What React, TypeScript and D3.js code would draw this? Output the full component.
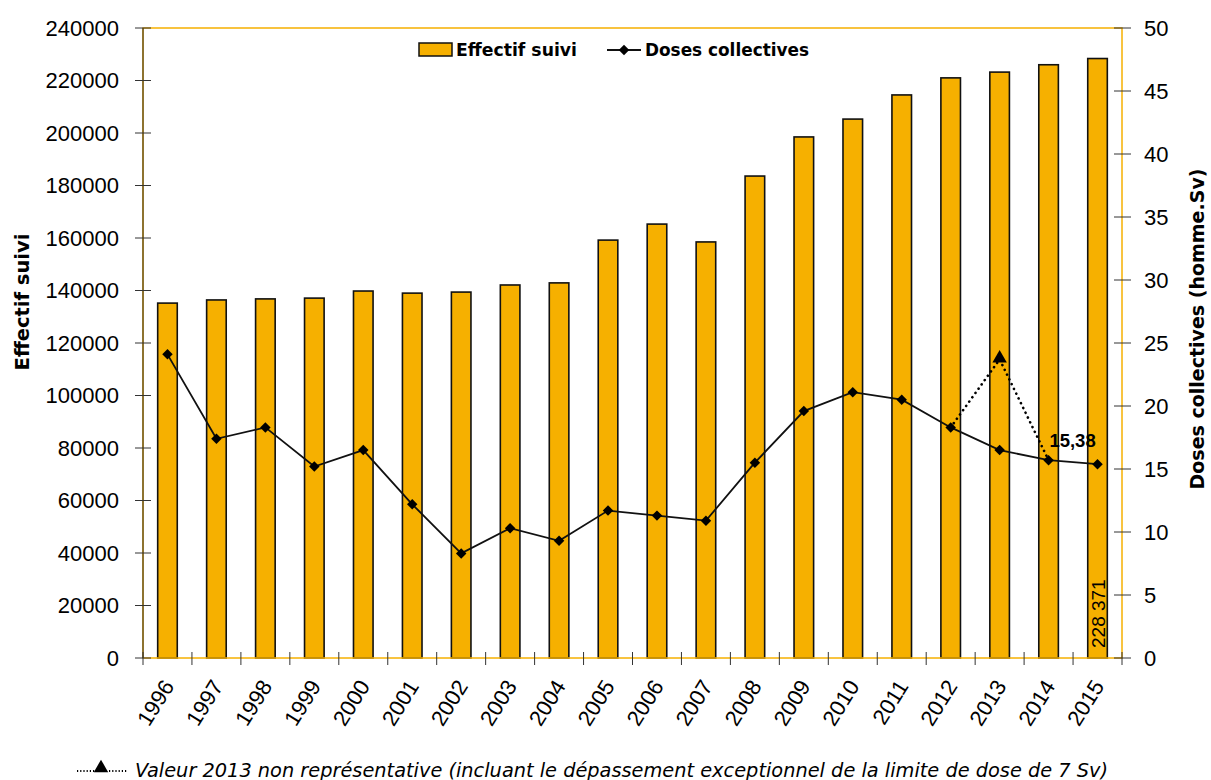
import * as d3 from "d3"

const years = ["1996", "1997", "1998", "1999", "2000", "2001", "2002", "2003", "2004", "2005",
  "2006", "2007", "2008", "2009", "2010", "2011", "2012", "2013", "2014", "2015"]
const effectif = [135200, 136400, 136800, 137100, 139800, 139000, 139400, 142100, 142900, 159200,
  165300, 158500, 183600, 198500, 205300, 214500, 221000, 223200, 226000, 228371]
const doses = [24.1, 17.4, 18.3, 15.2, 16.5, 12.2, 8.3, 10.3, 9.3, 11.7,
  11.3, 10.9, 15.5, 19.6, 21.1, 20.5, 18.3, 16.5, 15.7, 15.38]
// non representative 2013 value (dotted path 2012 -> 2013 -> 2014)
const dotted = [
  { year: "2012", value: 18.3 },
  { year: "2013", value: 23.7 },
  { year: "2014", value: 15.7 },
]
const leftTicks = [0, 20000, 40000, 60000, 80000, 100000, 120000, 140000, 160000, 180000, 200000, 220000, 240000]
const rightTicks = [0, 5, 10, 15, 20, 25, 30, 35, 40, 45, 50]

const ORANGE = "#F6B000"
const W = 1211
const H = 780
const margin = { top: 28, right: 89, bottom: 122, left: 143 }
const tickFont = "'Liberation Sans', Arial, sans-serif"
const titleFont = "'DejaVu Sans', Verdana, sans-serif"

export default function App() {
  if (typeof document !== "undefined") document.body.style.margin = "0"

  const x = d3.scaleBand<string>().domain(years).range([margin.left, W - margin.right]).paddingInner(0.6).paddingOuter(0.3)
  const yL = d3.scaleLinear().domain([0, 240000]).range([H - margin.bottom, margin.top])
  const yR = d3.scaleLinear().domain([0, 50]).range([H - margin.bottom, margin.top])
  const cx = (yr: string) => (x(yr) as number) + x.bandwidth() / 2
  const left = margin.left
  const right = W - margin.right
  const bottom = H - margin.bottom
  const top = margin.top

  const line = d3.line<number>().x((_, i) => cx(years[i])).y((d) => yR(d))
  const dotLine = d3.line<{ year: string; value: number }>().x((d) => cx(d.year)).y((d) => yR(d.value))
  const diamond = d3.symbol().type(d3.symbolDiamond2).size(70)
  const triangle = d3.symbol().type(d3.symbolTriangle).size(90)

  const last = years.length - 1

  return (
    <svg width={W} height={H} style={{ display: "block", background: "#fff" }}>
      {/* bars */}
      {years.map((yr, i) => (
        <rect key={yr} x={x(yr)} y={yL(effectif[i])} width={x.bandwidth()} height={bottom - yL(effectif[i])}
          fill={ORANGE} stroke="#111" strokeWidth={1.6} />
      ))}

      {/* plot frame */}
      <rect x={left} y={top} width={right - left} height={bottom - top} fill="none" stroke={ORANGE} strokeWidth={1.5} />
      <line x1={left} x2={left} y1={top} y2={bottom} stroke="#222" strokeWidth={1} />

      {/* left axis */}
      {leftTicks.map((t) => (
        <g key={t}>
          <line x1={left - 8} x2={left + 8} y1={yL(t)} y2={yL(t)} stroke="#333" strokeWidth={1} />
          <text x={left - 24} y={yL(t)} dy="0.35em" textAnchor="end" fontFamily={tickFont} fontSize={22}>{t}</text>
        </g>
      ))}
      {/* right axis */}
      {rightTicks.map((t) => (
        <g key={t}>
          <line x1={right - 8} x2={right + 9} y1={yR(t)} y2={yR(t)} stroke="#333" strokeWidth={1} />
          <text x={right + 22} y={yR(t)} dy="0.35em" textAnchor="start" fontFamily={tickFont} fontSize={22}>{t}</text>
        </g>
      ))}
      {/* bottom ticks */}
      {d3.range(years.length + 1).map((i) => {
        const px = left + i * x.step()
        return <line key={i} x1={px} x2={px} y1={bottom - 6} y2={bottom + 7} stroke="#333" strokeWidth={1} />
      })}
      {years.map((yr) => (
        <text key={yr} transform={`translate(${cx(yr) + 1},${bottom + 24}) rotate(-58)`} textAnchor="end" dy="0.35em"
          fontFamily={tickFont} fontSize={22}>{yr}</text>
      ))}

      {/* axis titles */}
      <text transform={`translate(29,302) rotate(-90)`} textAnchor="middle" fontFamily={titleFont}
        fontWeight="bold" fontSize={19.5}>Effectif suivi</text>
      <text transform={`translate(1204,329) rotate(-90)`} textAnchor="middle" fontFamily={titleFont}
        fontWeight="bold" fontSize={19}>Doses collectives (homme.Sv)</text>

      {/* dotted 2013 path */}
      <path d={dotLine(dotted) as string} fill="none" stroke="#000" strokeWidth={2.6} strokeDasharray="0.1 5.2" strokeLinecap="round" />
      <path transform={`translate(${cx("2013")},${yR(dotted[1].value) - 1})`} d={triangle() as string} fill="#000" />

      {/* dose line */}
      <path d={line(doses) as string} fill="none" stroke="#111" strokeWidth={1.8} />
      {doses.map((d, i) => (
        <path key={years[i]} transform={`translate(${cx(years[i])},${yR(d)})`} d={diamond() as string} fill="#000" />
      ))}

      {/* labels */}
      <text x={cx(years[last]) - 25} y={yR(doses[last]) - 17} textAnchor="middle" fontFamily={tickFont} fontWeight="bold"
        fontSize={18.5}>{"15,38"}</text>
      <text transform={`translate(${cx(years[last]) + 7},${bottom - 10}) rotate(-90)`} textAnchor="start" fontFamily={tickFont}
        fontSize={19}>{"228 371"}</text>

      {/* legend */}
      <rect x={419} y={43} width={33} height={13} fill={ORANGE} stroke="#111" strokeWidth={1.5} />
      <text x={456} y={50} dy="0.35em" fontFamily={titleFont} fontWeight="bold" fontSize={17} textLength={121}
        lengthAdjust="spacingAndGlyphs">Effectif suivi</text>
      <line x1={607} x2={641} y1={50} y2={50} stroke="#111" strokeWidth={1.8} />
      <path transform="translate(624,50)" d={diamond() as string} fill="#000" />
      <text x={645} y={50} dy="0.35em" fontFamily={titleFont} fontWeight="bold" fontSize={17} textLength={164}
        lengthAdjust="spacingAndGlyphs">Doses collectives</text>

      {/* footnote */}
      <line x1={77} x2={127} y1={771} y2={771} stroke="#000" strokeWidth={2} strokeDasharray="1.2 2" />
      <path transform="translate(101,768)" d={triangle() as string} fill="#000" />
      <text x={135} y={770} dy="0.35em" fontFamily={titleFont} fontStyle="italic" fontSize={19} textLength={973}
        lengthAdjust="spacingAndGlyphs">
        Valeur 2013 non représentative (incluant le dépassement exceptionnel de la limite de dose de 7 Sv)
      </text>
    </svg>
  )
}
